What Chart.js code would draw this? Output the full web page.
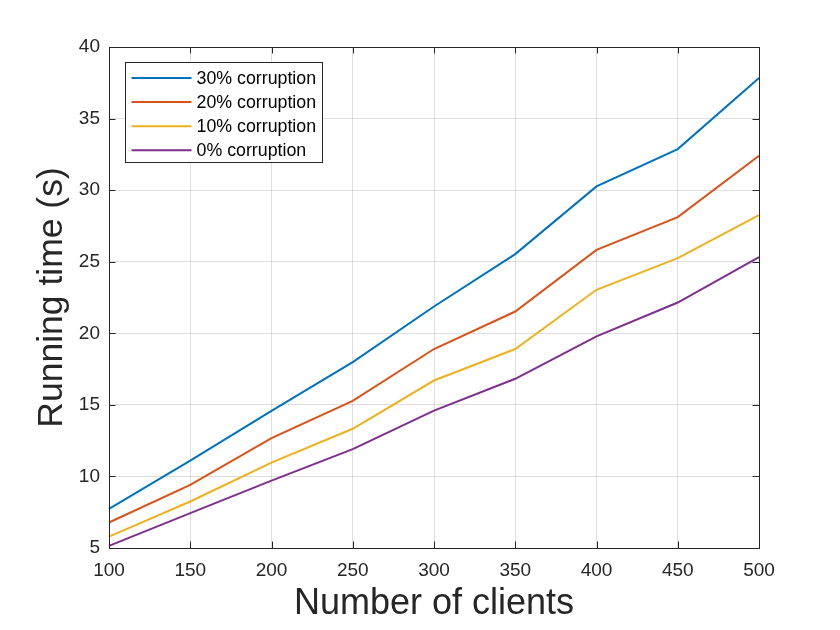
<!DOCTYPE html>
<html>
<head>
<meta charset="utf-8">
<script src="https://cdn.jsdelivr.net/npm/chart.js@4"></script>
<style>
  html, body { margin: 0; padding: 0; background: #ffffff; }
  #wrap { width: 840px; height: 630px; }
</style>
</head>
<body>
<div id="wrap"><canvas id="c" width="840" height="630"></canvas></div>
<script>
const clients = [100, 150, 200, 250, 300, 350, 400, 450, 500];
const yTicks = [5, 10, 15, 20, 25, 30, 35, 40];
const seriesNames = ['30% corruption', '20% corruption', '10% corruption', '0% corruption'];
const corruption30 = [7.74, 11.11, 14.58, 17.99, 21.87, 25.53, 30.26, 32.87, 37.83];
const corruption20 = [6.78, 9.41, 12.68, 15.28, 18.90, 21.52, 25.83, 28.12, 32.40];
const corruption10 = [5.80, 8.25, 10.97, 13.33, 16.70, 18.90, 23.04, 25.25, 28.26];
const corruption0  = [5.15, 7.44, 9.71, 11.91, 14.60, 16.82, 19.78, 22.15, 25.32];
const colors = ['#0072BD', '#D95319', '#EDB120', '#7E2F8E'];

const FONT = '"Liberation Sans", Arial, Helvetica, sans-serif';
const TEXT = '#262626';

const boxPlugin = {
  id: 'matlabBox',
  afterDatasetsDraw(chart) {
    const {ctx, chartArea: a, scales} = chart;
    ctx.save();
    ctx.strokeStyle = TEXT;
    ctx.lineWidth = 1;
    // inward ticks
    const tl = 6.5;
    ctx.beginPath();
    clients.forEach((c, i) => {
      const x = Math.round(scales.x.getPixelForValue(i)) + 0.5;
      ctx.moveTo(x, a.bottom); ctx.lineTo(x, a.bottom - tl);
      ctx.moveTo(x, a.top); ctx.lineTo(x, a.top + tl);
    });
    yTicks.forEach(v => {
      const y = Math.round(scales.y.getPixelForValue(v)) + 0.5;
      ctx.moveTo(a.left, y); ctx.lineTo(a.left + tl, y);
      ctx.moveTo(a.right, y); ctx.lineTo(a.right - tl, y);
    });
    ctx.stroke();
    ctx.strokeRect(Math.round(a.left) + 0.5, Math.round(a.top) + 0.5,
                   Math.round(a.right - a.left), Math.round(a.bottom - a.top));
    // legend
    const lx = a.left + 16.5, ly = a.top + 15.5, lw = 197, lh = 100;
    ctx.fillStyle = '#ffffff';
    ctx.fillRect(lx, ly, lw, lh);
    ctx.strokeRect(lx, ly, lw, lh);
    ctx.font = '17.8px ' + FONT;
    ctx.textBaseline = 'middle';
    ctx.textAlign = 'left';
    chart.data.datasets.forEach((ds, i) => {
      const cy = ly + 15.5 + i * 24.1;
      ctx.strokeStyle = ds.borderColor;
      ctx.lineWidth = 2;
      ctx.beginPath();
      ctx.moveTo(lx + 6, cy); ctx.lineTo(lx + 66, cy);
      ctx.stroke();
      ctx.fillStyle = '#000000';
      ctx.fillText(ds.label, lx + 71, cy + 1);
    });
    ctx.restore();
  }
};

const datasets = [corruption30, corruption20, corruption10, corruption0].map((d, i) => ({
  label: seriesNames[i],
  data: d,
  borderColor: colors[i],
  backgroundColor: colors[i],
  borderWidth: 2,
  pointRadius: 0,
  tension: 0,
  fill: false
}));

new Chart(document.getElementById('c'), {
  type: 'line',
  data: { labels: clients.map(String), datasets },
  options: {
    responsive: false,
    animation: false,
    devicePixelRatio: 1,
    layout: { padding: { top: 47, right: 81, left: 0, bottom: 0 } },
    plugins: { legend: { display: false }, tooltip: { enabled: false } },
    scales: {
      x: {
        type: 'category',
        offset: false,
        grid: { color: 'rgba(38,38,38,0.15)', drawTicks: false },
        border: { display: false },
        ticks: { color: TEXT, font: { family: FONT, size: 19 }, padding: 11, maxRotation: 0, autoSkip: false },
        title: { display: true, text: 'Number of clients', color: TEXT,
                 font: { family: FONT, size: 36 }, padding: { top: 0, bottom: 4 } },
        afterFit(s) { s.height = 82; }
      },
      y: {
        min: 5, max: 40,
        afterBuildTicks(s) { s.ticks = yTicks.map(v => ({ value: v })); },
        grid: { color: 'rgba(38,38,38,0.15)', drawTicks: false },
        border: { display: false },
        ticks: { color: TEXT, font: { family: FONT, size: 19 }, padding: 9 },
        title: { display: true, text: 'Running time (s)', color: TEXT,
                 font: { family: FONT, size: 35.5 }, padding: { top: 31, bottom: 0 } },
        afterFit(s) { s.width = 109; }
      }
    }
  },
  plugins: [boxPlugin]
});
</script>
</body>
</html>
